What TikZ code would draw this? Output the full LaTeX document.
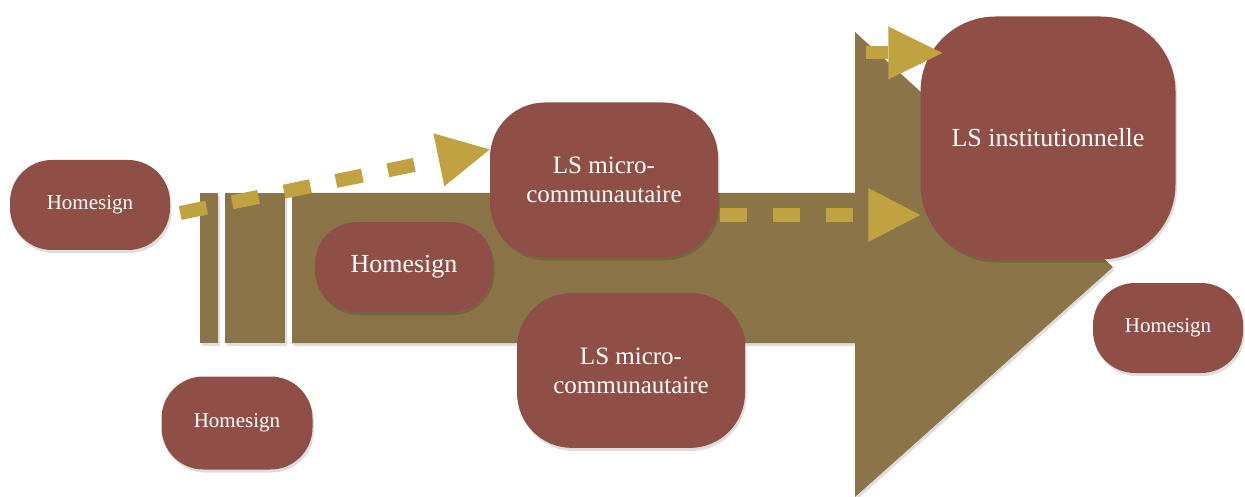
\documentclass[tikz,border=0pt]{standalone}
\usepackage{fontspec}
\setmainfont{Liberation Serif}
\usetikzlibrary{arrows.meta,positioning,calc,shadows}
\definecolor{leather}{RGB}{138,116,72}
\definecolor{brick}{RGB}{143,78,70}
\definecolor{ochre}{RGB}{192,162,64}
\tikzset{
  softshadow/.style={drop shadow={shadow xshift=1.5pt, shadow yshift=-3pt,
    opacity=0.13, fill=black}},
  signbox/.style={fill=brick, text=white, rounded corners=42pt, softshadow,
    minimum width=160pt, minimum height=90pt, align=center, inner sep=0pt,
    font=\fontsize{21}{25}\selectfont},
  microbox/.style={fill=brick, text=white, rounded corners=55pt, softshadow,
    minimum width=228pt, minimum height=155pt, align=center, inner sep=0pt,
    font=\fontsize{25}{29}\selectfont},
  instbox/.style={fill=brick, text=white, rounded corners=75pt, softshadow,
    minimum width=255pt, minimum height=243pt, align=center, inner sep=0pt,
    font=\fontsize{26}{30}\selectfont},
  goldflow/.style={draw=ochre, line width=14pt, dash pattern=on 27pt off 26pt,
    -{Triangle[length=52pt, width=54pt, line width=0pt]}},
  goldsolid/.style={draw=ochre, line width=13pt,
    -{Triangle[length=54pt, width=53pt, line width=0pt]}}
}

\begin{document}
\begin{tikzpicture}[x=1pt, y=-1pt]
\useasboundingbox (0,0) rectangle (1245,497);
% big arrow with striped tail
\fill[leather, softshadow] (200,193) rectangle (218,343);
\fill[leather, softshadow] (225,193) rectangle (285,343);
\fill[leather, softshadow] (292,193) -- (855,193) -- (855,32) -- (1113,267)
  -- (855,497) -- (855,343) -- (292,343) -- cycle;

\node[signbox] (hs1) at (90,205) {Homesign};
\node[signbox, minimum width=178pt, font=\fontsize{26}{30}\selectfont] (hs2)
  at (404,267) {Homesign};
\node[microbox] (micro1) at (604,180) {LS micro-\\communautaire};
\node[microbox, below=35pt of micro1, xshift=27pt] (micro2)
  {LS micro-\\communautaire};
\node[instbox] (inst) at (1048,138) {LS institutionnelle};
\node[signbox, minimum width=150pt] (hs3) at (1168,328) {Homesign};
\node[signbox, minimum width=151pt, minimum height=93pt] (hs4)
  at (237,423) {Homesign};

\draw[goldflow] ($(hs1.east)+(10,8)$) -- (micro1.165);
\draw[goldflow] ($(micro1.east)+(2,35)$) -- ($(inst.west)+(0,77)$);
\draw[goldsolid] ($(inst.west)+(-54,-85)$) -- ($(inst.west)+(22,-85)$);
\end{tikzpicture}
\end{document}
